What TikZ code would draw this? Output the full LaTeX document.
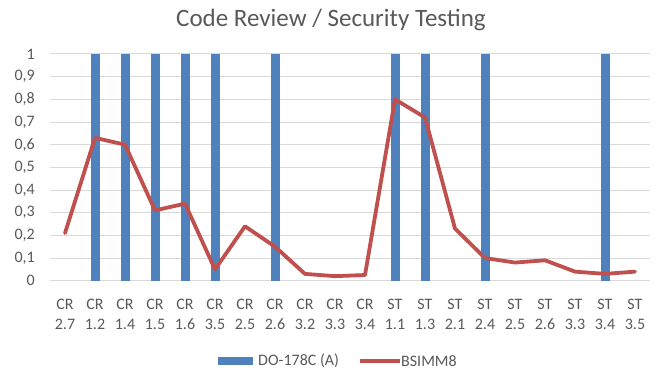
\documentclass[tikz,border=0pt]{standalone}
\usepackage{fontspec}
\setmainfont{Carlito}
\definecolor{barblue}{HTML}{4F81BD}
\definecolor{linered}{HTML}{C0504D}
\definecolor{gridgray}{HTML}{D9D9D9}
\definecolor{labelgray}{HTML}{595959}
\begin{document}
\begin{tikzpicture}[
  x=1pt,y=1pt,
  gridline/.style={gridgray,line width=1pt},
  bar/.style={fill=barblue,draw=none},
  series/.style={linered,line width=3.8pt,line join=round,line cap=round},
  lbl/.style={text=labelgray,inner sep=0pt,font=\fontsize{16}{19.5}\selectfont},
  titlelbl/.style={text=labelgray,inner sep=0pt,font=\fontsize{25}{28}\selectfont}
]
  \useasboundingbox (0,0) rectangle (657,374);
  \node[titlelbl,anchor=base] (title) at (331,347) {Code Review / Security Testing};

  \begin{scope}[shift={(50,93.3)},x=30pt,y=226.7pt]
    % grid and y axis
    \foreach \v/\t in {0/0,1/{0,1},2/{0,2},3/{0,3},4/{0,4},5/{0,5},
                       6/{0,6},7/{0,7},8/{0,8},9/{0,9},10/1} {
      \draw[gridline] (0,\v/10) -- (20,\v/10);
      \node[lbl,anchor=east] (ytick\v) at (-0.5,\v/10) {\t};
    }
    % DO-178C (A)
    \foreach \i in {2,3,4,5,6,8,12,13,15,19}
      \fill[bar] (\i-0.65,0) rectangle (\i-0.35,1);
    % BSIMM8
    \draw[series] plot coordinates {(0.5,.21) (1.5,.63) (2.5,.60) (3.5,.31)
      (4.5,.34) (5.5,.05) (6.5,.24) (7.5,.15) (8.5,.03) (9.5,.02)
      (10.5,.025) (11.5,.80) (12.5,.72) (13.5,.23) (14.5,.10) (15.5,.08)
      (16.5,.09) (17.5,.04) (18.5,.03) (19.5,.04)};
    % categories
    \foreach \pre/\num [count=\i] in {CR/2.7,CR/1.2,CR/1.4,CR/1.5,CR/1.6,
        CR/3.5,CR/2.5,CR/2.6,CR/3.2,CR/3.3,CR/3.4,ST/1.1,ST/1.3,ST/2.1,
        ST/2.4,ST/2.5,ST/2.6,ST/3.3,ST/3.4,ST/3.5}
      \node[lbl,align=center] (cat\i) at (\i-0.5,-0.149) {\pre\\\num};
  \end{scope}

  % legend
  \fill[bar] (218,9) rectangle (253,17);
  \node[lbl,anchor=west] (legdo) at (258,13) {DO-178C (A)};
  \draw[series,line cap=butt] (360,13) -- (400,13);
  \node[lbl,anchor=west] (legbs) at (401,13) {BSIMM8};
\end{tikzpicture}
\end{document}
